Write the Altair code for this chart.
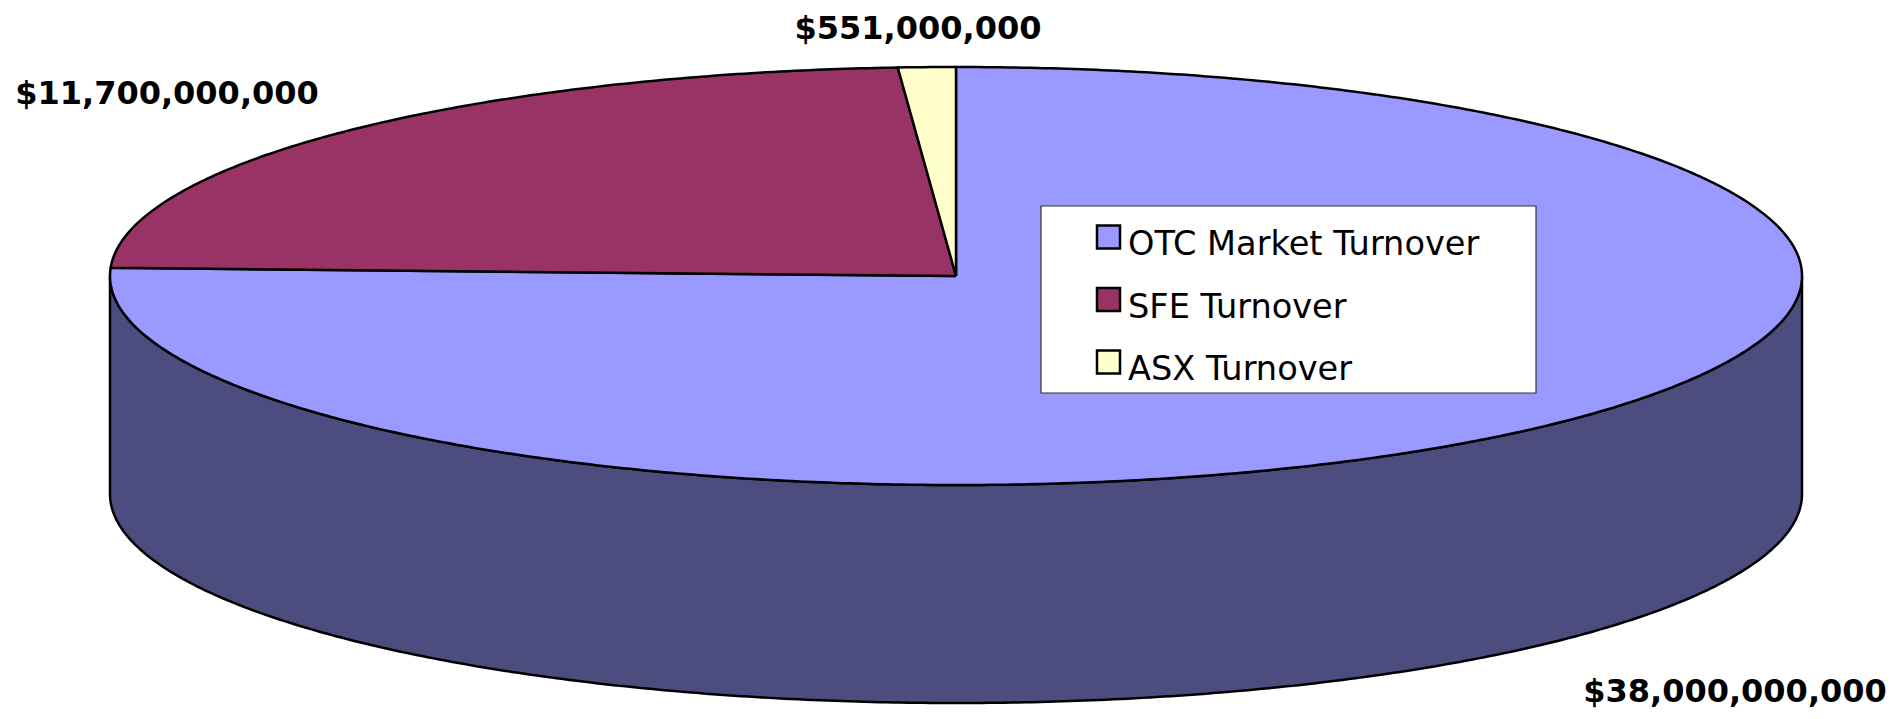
import altair as alt
import numpy as np
import pandas as pd

# ---------------- data ----------------
categories = ["OTC Market Turnover", "SFE Turnover", "ASX Turnover"]
values = [38_000_000_000, 11_700_000_000, 551_000_000]
value_labels = ["$38,000,000,000", "$11,700,000,000", "$551,000,000"]
top_colors = ["#9999FF", "#993366", "#FFFFCC"]
side_colors = ["#4C4C7E", "#4D1A33", "#80806A"]

# ---------------- layout (page pixels) ----------------
CX, CY = 956, 276        # centre of the top ellipse
A, B = 846, 209          # semi axes of the top ellipse
DEPTH = 218              # thickness of the pie
label_pos = [(1735, 702), (167, 104), (918, 39)]   # centre x, baseline y
LEG_X0, LEG_Y0, LEG_X1, LEG_Y1 = 1041, 206, 1536, 393
LEG_ROW0, LEG_STEP = 237, 62.5
SQ_X, SQ = 1097, 23
TXT_X, TXT_DY = 1128, 18
W, H = 1884, 703
M = 8

xs = alt.Scale(domain=[M, M + W], zero=False, nice=False)
ys = alt.Scale(domain=[M, M + H], zero=False, nice=False, reverse=True)
noax = None

total = float(sum(values))
edges = np.concatenate([[0.0], np.cumsum(values) / total * 360.0])


def ell(theta_deg, dy=0.0):
    t = np.radians(theta_deg)
    return CX + A * np.sin(t), CY - B * np.cos(t) + dy


layers = []

# side walls (visible front half: 90..270 degrees)
for i, c in enumerate(categories):
    t0, t1 = max(edges[i], 90.0), min(edges[i + 1], 270.0)
    if t1 <= t0:
        continue
    th = np.linspace(t0, t1, int((t1 - t0) * 2) + 2)
    xt, yt = ell(th)
    xb, yb = ell(th[::-1], DEPTH)
    px = np.concatenate([xt, xb, xt[:1]])
    py = np.concatenate([yt, yb, yt[:1]])
    df = pd.DataFrame({"x": px, "y": py, "o": np.arange(len(px)), "s": c})
    layers.append(
        alt.Chart(df).mark_line(fill=side_colors[i], stroke="black", strokeWidth=2.5,
                                strokeJoin="round")
        .encode(x=alt.X("x:Q", scale=xs, axis=noax),
                y=alt.Y("y:Q", scale=ys, axis=noax),
                order="o:Q")
    )

# top wedges
for i, c in enumerate(categories):
    t0, t1 = edges[i], edges[i + 1]
    th = np.linspace(t0, t1, max(int((t1 - t0) * 2), 2) + 1)
    xa, ya = ell(th)
    px = np.concatenate([[CX], xa, [CX]])
    py = np.concatenate([[CY], ya, [CY]])
    df = pd.DataFrame({"x": px, "y": py, "o": np.arange(len(px)), "s": c})
    layers.append(
        alt.Chart(df).mark_line(fill=top_colors[i], stroke="black", strokeWidth=2.5,
                                strokeJoin="round")
        .encode(x=alt.X("x:Q", scale=xs, axis=noax),
                y=alt.Y("y:Q", scale=ys, axis=noax),
                order="o:Q")
    )

# value labels
lab = pd.DataFrame({"x": [p[0] for p in label_pos], "y": [p[1] for p in label_pos],
                    "t": value_labels})
layers.append(
    alt.Chart(lab).mark_text(font="DejaVu Sans", fontSize=32, fontWeight="bold",
                             color="black", align="center", baseline="alphabetic")
    .encode(x=alt.X("x:Q", scale=xs, axis=noax), y=alt.Y("y:Q", scale=ys, axis=noax),
            text="t:N")
)

# legend box
box = pd.DataFrame({"x": [LEG_X0], "x2": [LEG_X1], "y": [LEG_Y0], "y2": [LEG_Y1]})
layers.append(
    alt.Chart(box).mark_rect(fill="white", stroke="#333333", strokeWidth=1.2)
    .encode(x=alt.X("x:Q", scale=xs, axis=noax), x2="x2:Q",
            y=alt.Y("y:Q", scale=ys, axis=noax), y2="y2:Q")
)
leg = pd.DataFrame({
    "cat": categories,
    "col": top_colors,
    "cy": [LEG_ROW0 + k * LEG_STEP for k in range(len(categories))],
})
leg["sx"] = SQ_X
leg["sx2"] = SQ_X + SQ
leg["sy"] = leg["cy"] - SQ / 2
leg["sy2"] = leg["cy"] + SQ / 2
leg["tx"] = TXT_X
leg["ty"] = leg["cy"] + TXT_DY
layers.append(
    alt.Chart(leg).mark_rect(stroke="black", strokeWidth=2.5)
    .encode(x=alt.X("sx:Q", scale=xs, axis=noax), x2="sx2:Q",
            y=alt.Y("sy:Q", scale=ys, axis=noax), y2="sy2:Q",
            fill=alt.Fill("col:N", scale=None))
)
layers.append(
    alt.Chart(leg).mark_text(font="DejaVu Sans", fontSize=33.6, color="black",
                             align="left", baseline="alphabetic")
    .encode(x=alt.X("tx:Q", scale=xs, axis=noax), y=alt.Y("ty:Q", scale=ys, axis=noax),
            text="cat:N")
)

chart = (
    alt.layer(*layers)
    .properties(width=W, height=H, padding=0, autosize=alt.AutoSizeParams(type="none"),
                background="white")
    .configure_view(stroke=None)
)

chart.save("out.html", embed_options={"renderer": "svg", "actions": False})
